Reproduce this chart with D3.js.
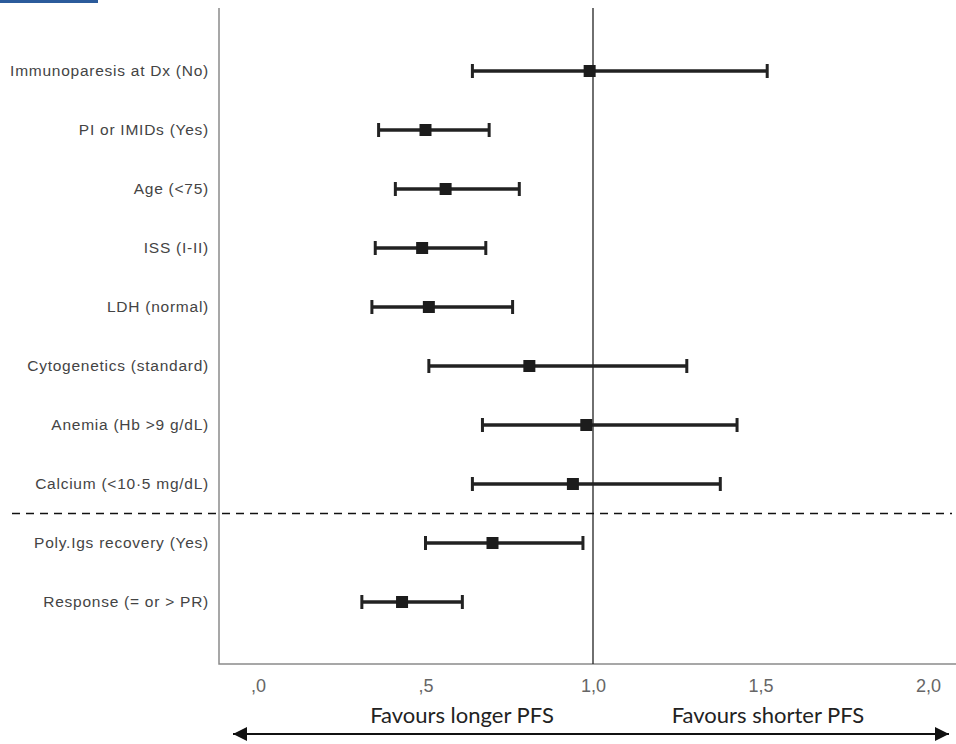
<!DOCTYPE html>
<html>
<head>
<meta charset="utf-8">
<script src="https://cdn.jsdelivr.net/npm/d3@7"></script>
<style>
  body { margin: 0; background: #fff; }
  svg { display: block; }
</style>
</head>
<body>
<div id="forest"></div>
<script>
// data (hazard ratio with 95% CI)
let factors = [
    'Immunoparesis at Dx (No)',
    'PI or IMIDs (Yes)',
    'Age (<75)',
    'ISS (I-II)',
    'LDH (normal)',
    'Cytogenetics (standard)',
    'Anemia (Hb >9 g/dL)',
    'Calcium (<10·5 mg/dL)',
    'Poly.Igs recovery (Yes)',
    'Response (= or > PR)'
];
let hr    = [0.99, 0.50, 0.56, 0.49, 0.51, 0.81, 0.98, 0.94, 0.70, 0.43];
let lower = [0.64, 0.36, 0.41, 0.35, 0.34, 0.51, 0.67, 0.64, 0.50, 0.31];
let upper = [1.52, 0.69, 0.78, 0.68, 0.76, 1.28, 1.43, 1.38, 0.97, 0.61];
let xTicks = [0, 0.5, 1, 1.5, 2];
let tickLabels = [',0', ',5', '1,0', '1,5', '2,0'];
let sideLabels = ['Favours longer PFS', 'Favours shorter PFS'];

let rows = factors.map((f, i) => ({name: f, hr: hr[i], lo: lower[i], hi: upper[i]}));

// configuration of svg/plot area
let config = {
    svg: {width: 956, height: 744},
    frame: {left: 219, top: 8, bottom: 664, right: 956}
};

let svg = d3.select('#forest')
    .append('svg')
        .attr('width', config.svg.width)
        .attr('height', config.svg.height);

let x = d3.scaleLinear()
    .domain([0, 2])
    .range([258, 928]);

let y = d3.scalePoint()
    .domain(factors)
    .range([12, 661])
    .padding(1);

// top-left blue rule
svg.append('line')
    .attr('x1', 0).attr('x2', 98)
    .attr('y1', 1.5).attr('y2', 1.5)
    .attr('stroke', '#2b5b9b')
    .attr('stroke-width', 3);

// frame (left + bottom)
svg.append('path')
    .attr('d', `M${config.frame.left},${config.frame.top}V${config.frame.bottom}H${config.frame.right}`)
    .attr('fill', 'none')
    .attr('stroke', '#8a8a8a')
    .attr('stroke-width', 1.5);

// reference line at HR = 1
svg.append('line')
    .attr('x1', x(1)).attr('x2', x(1))
    .attr('y1', config.frame.top).attr('y2', config.frame.bottom)
    .attr('stroke', '#222')
    .attr('stroke-width', 1.3);

// dashed separator between baseline factors and response factors
let sepY = (y(factors[7]) + y(factors[8])) / 2;
svg.append('line')
    .attr('x1', 12).attr('x2', 952)
    .attr('y1', sepY).attr('y2', sepY)
    .attr('stroke', '#111')
    .attr('stroke-width', 1.5)
    .attr('stroke-dasharray', '8,6');

// row labels
svg.append('g')
    .selectAll('text')
    .data(rows)
    .join('text')
        .attr('x', 209)
        .attr('y', d => y(d.name))
        .attr('dy', '0.35em')
        .attr('text-anchor', 'end')
        .attr('font-family', 'Liberation Sans, Arial, sans-serif')
        .attr('font-size', 15.5)
        .attr('letter-spacing', 0.75)
        .attr('fill', '#444')
        .text(d => d.name);

// error bars
let bars = svg.append('g')
    .selectAll('g')
    .data(rows)
    .join('g')
        .attr('stroke', '#222');

bars.append('line')
    .attr('x1', d => x(d.lo)).attr('x2', d => x(d.hi))
    .attr('y1', d => y(d.name)).attr('y2', d => y(d.name))
    .attr('stroke-width', 3.5);

bars.selectAll('.cap')
    .data(d => [{v: d.lo, n: d.name}, {v: d.hi, n: d.name}])
    .join('line')
        .attr('class', 'cap')
        .attr('x1', d => x(d.v)).attr('x2', d => x(d.v))
        .attr('y1', d => y(d.n) - 7).attr('y2', d => y(d.n) + 7)
        .attr('stroke-width', 3);

bars.append('rect')
    .attr('x', d => x(d.hr) - 6)
    .attr('y', d => y(d.name) - 6)
    .attr('width', 12)
    .attr('height', 12)
    .attr('fill', '#1c1c1c')
    .attr('stroke', 'none');

// x axis tick labels (no tick marks, no domain)
let xAxis = g => g
    .attr('transform', `translate(0,${config.frame.bottom})`)
    .call(d3.axisBottom(x).tickValues(xTicks).tickSize(0).tickPadding(15)
        .tickFormat((d, i) => tickLabels[i]))
    .call(g => g.select('.domain').remove())
    .call(g => g.selectAll('text')
        .attr('font-family', 'Liberation Sans, Arial, sans-serif')
        .attr('font-size', 18)
        .attr('fill', '#666'));

svg.append('g').call(xAxis);

// "favours" labels
svg.append('g')
    .selectAll('text')
    .data(sideLabels)
    .join('text')
        .attr('x', (d, i) => i === 0 ? 462 : 768)
        .attr('y', 723)
        .attr('text-anchor', 'middle')
        .attr('font-family', 'Lato, sans-serif')
        .attr('font-size', 22)
        .attr('fill', '#222')
        .text(d => d);

// double-headed arrow
svg.append('defs').selectAll('marker')
    .data(['start', 'end'])
    .join('marker')
        .attr('id', d => 'arr-' + d)
        .attr('viewBox', '0 0 10 10')
        .attr('refX', 10).attr('refY', 5)
        .attr('markerWidth', 16).attr('markerHeight', 14)
        .attr('markerUnits', 'userSpaceOnUse')
        .attr('orient', d => d === 'start' ? 'auto-start-reverse' : 'auto')
    .append('path')
        .attr('d', 'M0,0L10,5L0,10Z')
        .attr('fill', '#111');

svg.append('line')
    .attr('x1', 233).attr('x2', 949)
    .attr('y1', 734).attr('y2', 734)
    .attr('stroke', '#111')
    .attr('stroke-width', 2)
    .attr('marker-start', 'url(#arr-start)')
    .attr('marker-end', 'url(#arr-end)');
</script>
</body>
</html>
